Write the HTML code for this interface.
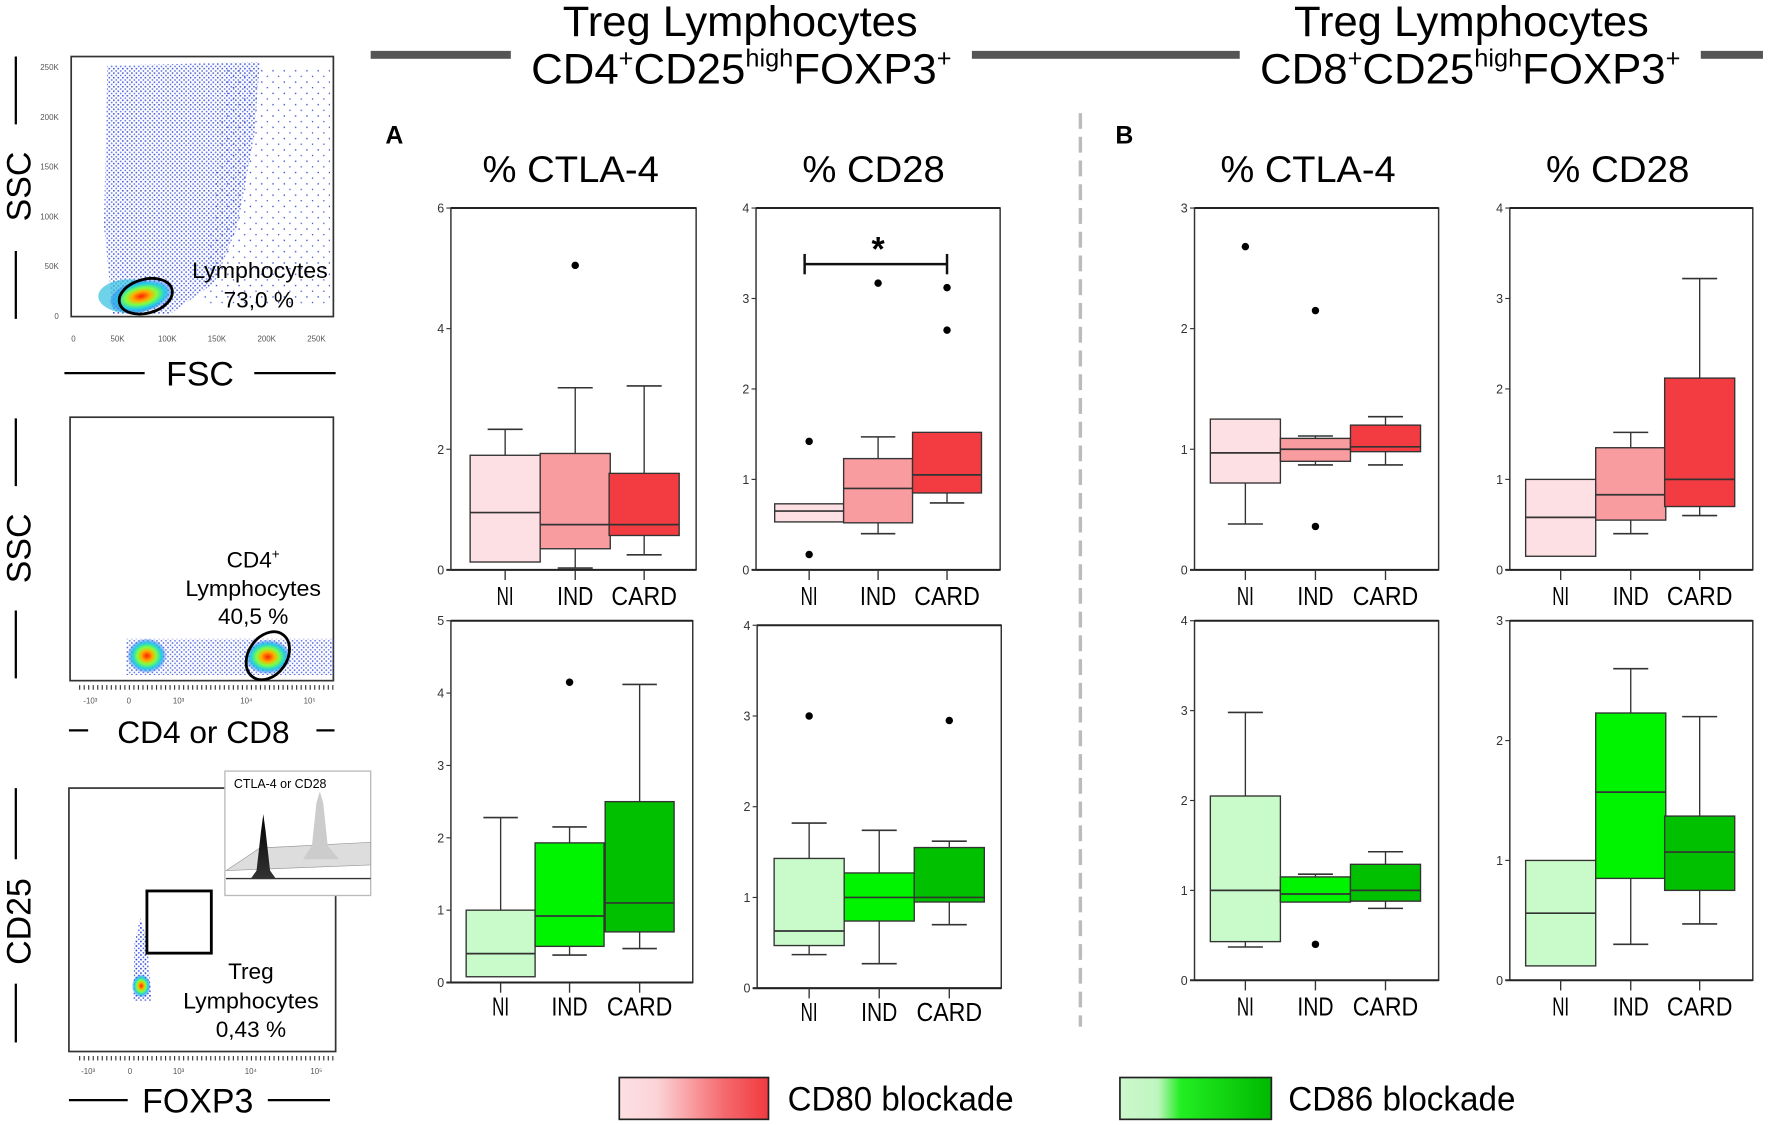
<!DOCTYPE html>
<html><head><meta charset="utf-8"><style>
html,body{margin:0;padding:0;background:#fff;}
svg{display:block;font-family:"Liberation Sans",Arial,sans-serif;}
</style></head><body>
<svg id="fig" width="1772" height="1125" viewBox="0 0 1568 995" preserveAspectRatio="none" xmlns="http://www.w3.org/2000/svg">
<defs>
<linearGradient id="gRed" x1="0" x2="1" y1="0" y2="0"><stop offset="0" stop-color="#fde0e3"/><stop offset="0.25" stop-color="#fbd4d7"/><stop offset="0.7" stop-color="#f56a6e"/><stop offset="1" stop-color="#f03a40"/></linearGradient>
<linearGradient id="gGreen" x1="0" x2="1" y1="0" y2="0"><stop offset="0" stop-color="#ccf8cc"/><stop offset="0.25" stop-color="#c0f5c0"/><stop offset="0.4" stop-color="#22ee22"/><stop offset="1" stop-color="#00b800"/></linearGradient>
<pattern id="dDense" width="4" height="4" patternUnits="userSpaceOnUse"><rect x="0" y="0" width="1.4" height="1.4" fill="#2a3fd0"/><rect x="2.2" y="2.1" width="1.3" height="1.3" fill="#3050e0"/></pattern>
<pattern id="dSparse" width="10" height="10" patternUnits="userSpaceOnUse"><rect x="1" y="2" width="1.2" height="1.2" fill="#3345cc"/><rect x="6" y="7" width="1.1" height="1.1" fill="#3345cc"/></pattern>
<radialGradient id="hot"><stop offset="0" stop-color="#ff2000"/><stop offset="0.3" stop-color="#ffb000"/><stop offset="0.5" stop-color="#80ff40"/><stop offset="0.75" stop-color="#20d0e0"/><stop offset="1" stop-color="#2060ff" stop-opacity="0.2"/></radialGradient>
<linearGradient id="histDark" x1="0" y1="0" x2="0" y2="1"><stop offset="0" stop-color="#000"/><stop offset="1" stop-color="#333"/></linearGradient>
</defs>

<!-- headers -->
<g>
<text x="498" y="32" font-size="38" textLength="314" lengthAdjust="spacingAndGlyphs">Treg Lymphocytes</text>
<text x="470" y="74" font-size="38" textLength="372" lengthAdjust="spacingAndGlyphs">CD4<tspan font-size="22" dy="-15">+</tspan><tspan dy="15">CD25</tspan><tspan font-size="22" dy="-15">high</tspan><tspan dy="15">FOXP3</tspan><tspan font-size="22" dy="-15">+</tspan></text>
</g>
<g>
<text x="1145" y="32" font-size="38" textLength="314" lengthAdjust="spacingAndGlyphs">Treg Lymphocytes</text>
<text x="1115" y="74" font-size="38" textLength="372" lengthAdjust="spacingAndGlyphs">CD8<tspan font-size="22" dy="-15">+</tspan><tspan dy="15">CD25</tspan><tspan font-size="22" dy="-15">high</tspan><tspan dy="15">FOXP3</tspan><tspan font-size="22" dy="-15">+</tspan></text>
</g>
<rect x="328" y="45" width="124" height="7" fill="#555"/>
<rect x="860" y="45" width="237" height="7" fill="#555"/>
<rect x="1505" y="45" width="55" height="7" fill="#555"/>
<line x1="956" y1="100" x2="956" y2="908" stroke="#bbb" stroke-width="3" stroke-dasharray="14,7"/>
<text x="341" y="127" font-size="22" font-weight="bold">A</text>
<text x="987" y="127" font-size="22" font-weight="bold">B</text>
<text x="427" y="161" font-size="33" textLength="156" lengthAdjust="spacingAndGlyphs">% CTLA-4</text>
<text x="710" y="161" font-size="33" textLength="126" lengthAdjust="spacingAndGlyphs">% CD28</text>
<text x="1080" y="161" font-size="33" textLength="155" lengthAdjust="spacingAndGlyphs">% CTLA-4</text>
<text x="1368" y="161" font-size="33" textLength="127" lengthAdjust="spacingAndGlyphs">% CD28</text>

<!-- flow plot 1 -->
<g>
<rect x="63" y="50" width="232" height="230" fill="#fff" stroke="#333" stroke-width="1.5"/>
<path d="M95 58 L230 55 L225 120 L210 200 L190 250 L150 278 L100 278 L92 200 Z" fill="url(#dDense)" opacity="0.85"/>
<path d="M200 60 L292 60 L292 270 L180 270 Z" fill="url(#dSparse)"/>
<ellipse cx="115" cy="262" rx="28" ry="15" fill="#30c0e0" opacity="0.7"/>
<ellipse cx="125" cy="262" rx="28" ry="14" transform="rotate(-12 125 262)" fill="url(#hot)"/>
<ellipse cx="129" cy="262" rx="24" ry="15" transform="rotate(-15 129 262)" fill="none" stroke="#000" stroke-width="2.5"/>
<text x="170" y="246" font-size="20" textLength="120" lengthAdjust="spacingAndGlyphs">Lymphocytes</text>
<text x="229" y="272" font-size="20" text-anchor="middle">73,0 %</text>
<text x="27" y="165" font-size="30" text-anchor="middle" transform="rotate(-90 27 165)">SSC</text>
<line x1="14" y1="50" x2="14" y2="110" stroke="#000" stroke-width="2"/><line x1="14" y1="222" x2="14" y2="282" stroke="#000" stroke-width="2"/>
<text x="177" y="341" font-size="30" text-anchor="middle">FSC</text>
<line x1="57" y1="330" x2="128" y2="330" stroke="#000" stroke-width="2"/><line x1="225" y1="330" x2="297" y2="330" stroke="#000" stroke-width="2"/>
<g font-size="7" fill="#555" text-anchor="middle"><text x="65" y="302">0</text><text x="104" y="302">50K</text><text x="148" y="302">100K</text><text x="192" y="302">150K</text><text x="236" y="302">200K</text><text x="280" y="302">250K</text>
<text x="52" y="282" text-anchor="end">0</text><text x="52" y="238" text-anchor="end">50K</text><text x="52" y="194" text-anchor="end">100K</text><text x="52" y="150" text-anchor="end">150K</text><text x="52" y="106" text-anchor="end">200K</text><text x="52" y="62" text-anchor="end">250K</text></g>
</g>

<!-- flow plot 2 -->
<g>
<rect x="62" y="369" width="233" height="233" fill="#fff" stroke="#333" stroke-width="1.5"/>
<rect x="112" y="565" width="183" height="32" fill="url(#dDense)" opacity="0.8"/>
<ellipse cx="130" cy="580" rx="17" ry="15" fill="url(#hot)"/>
<ellipse cx="237" cy="581" rx="20" ry="15" fill="url(#hot)"/>
<ellipse cx="237" cy="580" rx="17" ry="23" transform="rotate(35 237 580)" fill="none" stroke="#000" stroke-width="2.5"/>
<text x="224" y="502" font-size="20" text-anchor="middle">CD4<tspan font-size="12" dy="-8">+</tspan></text>
<text x="164" y="527" font-size="20" textLength="120" lengthAdjust="spacingAndGlyphs">Lymphocytes</text>
<text x="224" y="552" font-size="20" text-anchor="middle">40,5 %</text>
<text x="27" y="485" font-size="30" text-anchor="middle" transform="rotate(-90 27 485)">SSC</text>
<line x1="14" y1="370" x2="14" y2="430" stroke="#000" stroke-width="2"/><line x1="14" y1="540" x2="14" y2="600" stroke="#000" stroke-width="2"/>
<text x="180" y="657" font-size="28" text-anchor="middle">CD4 or CD8</text>
<line x1="61" y1="646" x2="78" y2="646" stroke="#000" stroke-width="2"/><line x1="280" y1="646" x2="296" y2="646" stroke="#000" stroke-width="2"/>
<line x1="70" y1="608" x2="295" y2="608" stroke="#333" stroke-width="4" stroke-dasharray="1,3"/>
<g font-size="7" fill="#555" text-anchor="middle"><text x="80" y="622">-10³</text><text x="114" y="622">0</text><text x="158" y="622">10³</text><text x="218" y="622">10⁴</text><text x="274" y="622">10⁵</text></g>
</g>

<!-- flow plot 3 -->
<g>
<rect x="61" y="697" width="236" height="233" fill="#fff" stroke="#333" stroke-width="1.5"/>
<path d="M118 885 L119 835 L124 812 L130 830 L134 885 Z" fill="url(#dDense)"/>
<ellipse cx="125" cy="872" rx="8" ry="10" fill="url(#hot)"/>
<rect x="130" y="788" width="57" height="55" fill="none" stroke="#000" stroke-width="2.5"/>
<text x="222" y="866" font-size="20" text-anchor="middle">Treg</text>
<text x="162" y="892" font-size="20" textLength="120" lengthAdjust="spacingAndGlyphs">Lymphocytes</text>
<text x="222" y="917" font-size="20" text-anchor="middle">0,43 %</text>
<text x="27" y="815" font-size="30" text-anchor="middle" transform="rotate(-90 27 815)">CD25</text>
<line x1="14" y1="697" x2="14" y2="760" stroke="#000" stroke-width="2"/><line x1="14" y1="870" x2="14" y2="922" stroke="#000" stroke-width="2"/>
<text x="175" y="984" font-size="30" text-anchor="middle">FOXP3</text>
<line x1="61" y1="973" x2="113" y2="973" stroke="#000" stroke-width="2"/><line x1="237" y1="973" x2="292" y2="973" stroke="#000" stroke-width="2"/>
<line x1="70" y1="936" x2="297" y2="936" stroke="#333" stroke-width="4" stroke-dasharray="1,3"/>
<g font-size="7" fill="#555" text-anchor="middle"><text x="78" y="950">-10³</text><text x="115" y="950">0</text><text x="158" y="950">10³</text><text x="222" y="950">10⁴</text><text x="280" y="950">10⁵</text></g>
<g>
<rect x="199" y="682" width="129" height="110" fill="#fff" stroke="#bbb" stroke-width="1.2"/>
<text x="207" y="697" font-size="11">CTLA-4 or CD28</text>
<path d="M200 770 L230 750 L328 745 L328 765 Z" fill="#ddd" stroke="#999" stroke-width="0.6"/>
<path d="M222 777 L227 770 L231 735 L233 720 L235 735 L239 770 L244 777 Z" fill="url(#histDark)"/>
<path d="M268 760 L276 748 L280 710 L283 700 L286 710 L290 748 L300 760 Z" fill="#ccc"/>
<line x1="200" y1="777" x2="328" y2="777" stroke="#333" stroke-width="1.2"/>
</g>
</g>

<!-- box plots -->
<g id="charts"></g>

<!-- legend -->
<g>
<g><rect x="548" y="953" width="132" height="37" fill="url(#gRed)" stroke="#222" stroke-width="1.5"/><text x="697" y="982" font-size="30" textLength="200" lengthAdjust="spacingAndGlyphs">CD80 blockade</text></g>
<g><rect x="991" y="953" width="134" height="37" fill="url(#gGreen)" stroke="#222" stroke-width="1.5"/><text x="1140" y="982" font-size="30" textLength="201" lengthAdjust="spacingAndGlyphs">CD86 blockade</text></g>
</g>
</svg>
<script>
const categories = ["NI", "IND", "CARD"];
// A top-left: CD4 CTLA-4, CD80 blockade
const a1Low = [0.13, 0.03, 0.25];
const a1Q1 = [0.13, 0.35, 0.57];
const a1Med = [0.95, 0.75, 0.75];
const a1Q3 = [1.9, 1.93, 1.6];
const a1High = [2.33, 3.02, 3.05];
const a1Out = [[], [5.05], []];
const a1Ticks = [0, 2, 4, 6];
// A top-right: CD4 CD28, CD80 blockade
const a2Low = [0.53, 0.4, 0.74];
const a2Q1 = [0.53, 0.52, 0.85];
const a2Med = [0.65, 0.9, 1.05];
const a2Q3 = [0.73, 1.23, 1.52];
const a2High = [0.73, 1.47, 1.52];
const a2Out = [[1.42, 0.17], [3.17], [3.12, 2.65]];
const a2Ticks = [0, 1, 2, 3, 4];
// B top-left: CD8 CTLA-4, CD80 blockade
const b1Low = [0.38, 0.87, 0.87];
const b1Q1 = [0.72, 0.9, 0.98];
const b1Med = [0.97, 1.0, 1.02];
const b1Q3 = [1.25, 1.09, 1.2];
const b1High = [1.25, 1.11, 1.27];
const b1Out = [[2.68], [2.15, 0.36], []];
const b1Ticks = [0, 1, 2, 3];
// B top-right: CD8 CD28, CD80 blockade
const b2Low = [0.15, 0.4, 0.6];
const b2Q1 = [0.15, 0.55, 0.7];
const b2Med = [0.58, 0.83, 1.0];
const b2Q3 = [1.0, 1.35, 2.12];
const b2High = [1.0, 1.52, 3.22];
const b2Out = [[], [], []];
const b2Ticks = [0, 1, 2, 3, 4];
// A bottom-left: CD4 CTLA-4, CD86 blockade
const a3Low = [0.08, 0.38, 0.47];
const a3Q1 = [0.08, 0.5, 0.7];
const a3Med = [0.4, 0.92, 1.1];
const a3Q3 = [1.0, 1.93, 2.5];
const a3High = [2.28, 2.15, 4.12];
const a3Out = [[], [4.15], []];
const a3Ticks = [0, 1, 2, 3, 4, 5];
// A bottom-right: CD4 CD28, CD86 blockade
const a4Low = [0.37, 0.27, 0.7];
const a4Q1 = [0.47, 0.74, 0.95];
const a4Med = [0.63, 1.0, 1.0];
const a4Q3 = [1.43, 1.27, 1.55];
const a4High = [1.82, 1.74, 1.62];
const a4Out = [[3.0], [], [2.95]];
const a4Ticks = [0, 1, 2, 3, 4];
// B bottom-left: CD8 CTLA-4, CD86 blockade
const b3Low = [0.37, 0.87, 0.8];
const b3Q1 = [0.43, 0.87, 0.88];
const b3Med = [1.0, 0.96, 1.0];
const b3Q3 = [2.05, 1.15, 1.29];
const b3High = [2.98, 1.18, 1.43];
const b3Out = [[], [0.4], []];
const b3Ticks = [0, 1, 2, 3, 4];
// B bottom-right: CD8 CD28, CD86 blockade
const b4Low = [0.12, 0.3, 0.47];
const b4Q1 = [0.12, 0.85, 0.75];
const b4Med = [0.56, 1.57, 1.07];
const b4Q3 = [1.0, 2.23, 1.37];
const b4High = [1.0, 2.6, 2.2];
const b4Out = [[], [], []];
const b4Ticks = [0, 1, 2, 3];

const redFills = ["#fde0e3", "#f89c9f", "#f33c42"];
const greenFills = ["#c9fac9", "#00f400", "#00c000"];
const NS = "http://www.w3.org/2000/svg";
const root = document.getElementById("charts");

function mk(tag, attrs, parent) {
  const e = document.createElementNS(NS, tag);
  for (const k in attrs) e.setAttribute(k, attrs[k]);
  parent.appendChild(e);
  return e;
}

const labelWidths = {NI: 15, IND: 32, CARD: 58};

function drawPanel(name, L, R, T, B, xs, maxV, ticks, low, q1, med, q3, high, out, fills, labelY, sig) {
  const g = mk("g", {}, root);
  
  
  const y = v => B - v / maxV * (B - T);
  const frame = mk("rect", {x: L, y: T, width: R - L, height: B - T, fill: "none", stroke: "#333", "stroke-width": 1.3}, g);
  
  
  mk("line", {x1: L, y1: T, x2: R, y2: T, stroke: "#222", "stroke-width": 1.8}, g);
  mk("line", {x1: L - 4, y1: B, x2: R, y2: B, stroke: "#222", "stroke-width": 1.8}, g);
  ticks.forEach(t => {
    mk("line", {x1: L - 4, y1: y(t), x2: L, y2: y(t), stroke: "#333", "stroke-width": 1}, g);
    const tl = mk("text", {x: L - 6, y: y(t) + 4, "font-size": 11, "text-anchor": "end", fill: "#333"}, g);
    tl.textContent = t;
    
    
  });
  const hw = (xs[1] - xs[0]) / 2;
  categories.forEach((c, i) => {
    const x = xs[i];
    mk("line", {x1: x, y1: B, x2: x, y2: B + 9, stroke: "#333", "stroke-width": 1.2}, g);
    const lab = mk("text", {x: x, y: labelY, "font-size": 23, "text-anchor": "middle", textLength: labelWidths[c], lengthAdjust: "spacingAndGlyphs"}, g);
    lab.textContent = c;
    
    
    if (high[i] > q3[i]) {
      mk("line", {x1: x, y1: y(q3[i]), x2: x, y2: y(high[i]), stroke: "#333", "stroke-width": 1.2}, g);
      mk("line", {x1: x - hw / 2, y1: y(high[i]), x2: x + hw / 2, y2: y(high[i]), stroke: "#333", "stroke-width": 1.4}, g);
    }
    if (low[i] < q1[i]) {
      mk("line", {x1: x, y1: y(q1[i]), x2: x, y2: y(low[i]), stroke: "#333", "stroke-width": 1.2}, g);
      mk("line", {x1: x - hw / 2, y1: y(low[i]), x2: x + hw / 2, y2: y(low[i]), stroke: "#333", "stroke-width": 1.4}, g);
    }
    const box = mk("rect", {x: x - hw, y: y(q3[i]), width: 2 * hw, height: y(q1[i]) - y(q3[i]), fill: fills[i], stroke: "#333", "stroke-width": 1.2}, g);
    
    
    const m = mk("line", {x1: x - hw, y1: y(med[i]), x2: x + hw, y2: y(med[i]), stroke: "#333", "stroke-width": 1.5}, g);
    
    
    out[i].forEach(v => {
      const d = mk("circle", {cx: x, cy: y(v), r: 3.3, fill: "#000"}, g);
      
      
    });
  });
  if (sig) {
    const yy = y(sig);
    mk("line", {x1: xs[0] - 4, y1: yy, x2: xs[2], y2: yy, stroke: "#111", "stroke-width": 2.2}, g);
    mk("line", {x1: xs[0] - 4, y1: yy - 9, x2: xs[0] - 4, y2: yy + 9, stroke: "#111", "stroke-width": 2.2}, g);
    mk("line", {x1: xs[2], y1: yy - 9, x2: xs[2], y2: yy + 9, stroke: "#111", "stroke-width": 2.2}, g);
    const st = mk("text", {x: (xs[0] + xs[2]) / 2, y: yy - 3, "font-size": 30, "font-weight": "bold", "text-anchor": "middle"}, g);
    st.textContent = "*";
    
    
  }
}

drawPanel("panel-a-ctla4-cd80", 399, 616, 184, 504, [447, 509, 570], 6, a1Ticks, a1Low, a1Q1, a1Med, a1Q3, a1High, a1Out, redFills, 535, null);
drawPanel("panel-a-cd28-cd80", 669, 885, 184, 504, [716, 777, 838], 4, a2Ticks, a2Low, a2Q1, a2Med, a2Q3, a2High, a2Out, redFills, 535, 3.38);
drawPanel("panel-b-ctla4-cd80", 1057, 1273, 184, 504, [1102, 1164, 1226], 3, b1Ticks, b1Low, b1Q1, b1Med, b1Q3, b1High, b1Out, redFills, 535, null);
drawPanel("panel-b-cd28-cd80", 1336, 1551, 184, 504, [1381, 1443, 1504], 4, b2Ticks, b2Low, b2Q1, b2Med, b2Q3, b2High, b2Out, redFills, 535, null);
drawPanel("panel-a-ctla4-cd86", 399, 613, 549, 869, [443, 504, 566], 5, a3Ticks, a3Low, a3Q1, a3Med, a3Q3, a3High, a3Out, greenFills, 898, null);
drawPanel("panel-a-cd28-cd86", 670, 886, 553, 874, [716, 778, 840], 4, a4Ticks, a4Low, a4Q1, a4Med, a4Q3, a4High, a4Out, greenFills, 903, null);
drawPanel("panel-b-ctla4-cd86", 1057, 1273, 549, 867, [1102, 1164, 1226], 4, b3Ticks, b3Low, b3Q1, b3Med, b3Q3, b3High, b3Out, greenFills, 898, null);
drawPanel("panel-b-cd28-cd86", 1336, 1551, 549, 867, [1381, 1443, 1504], 3, b4Ticks, b4Low, b4Q1, b4Med, b4Q3, b4High, b4Out, greenFills, 898, null);
</script>
</body></html>
